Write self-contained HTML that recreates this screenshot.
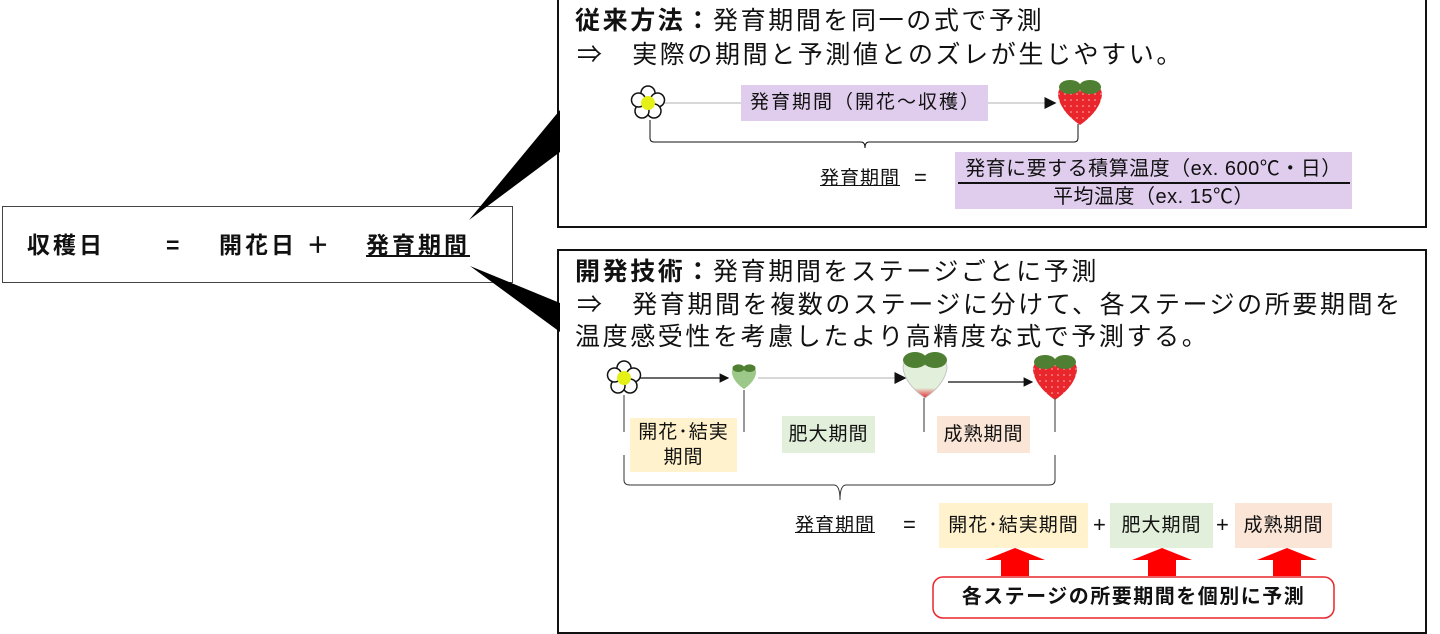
<!DOCTYPE html>
<html><head><meta charset="utf-8">
<style>
*{margin:0;padding:0;box-sizing:border-box}
body{width:1440px;height:630px;background:#fff;position:relative;overflow:hidden;font-family:"Liberation Sans","Noto Sans CJK JP",sans-serif;color:#111}
.a{position:absolute;white-space:nowrap}
.box{position:absolute;border:2px solid #111;background:#fff}
.t{font-size:25px;line-height:32px;letter-spacing:2.6px}
.lbl{position:absolute;display:flex;align-items:center;justify-content:center;font-size:19px;text-align:center;line-height:25px;letter-spacing:1px}
.m{font-size:23px;font-weight:bold;line-height:30px;letter-spacing:3px}
</style></head><body>
<div class="box" style="left:2px;top:206px;width:511px;height:77px;border:1.5px solid #444"></div>
<div class="a m" style="left:27px;top:230px">収穫日</div>
<div class="a m" style="left:166px;top:230px">=</div>
<div class="a m" style="left:219px;top:230px">開花日 ＋</div>
<div class="a m" style="left:366px;top:230px;text-decoration:underline">発育期間</div>

<div class="box" style="left:557px;top:-2px;width:870px;height:230px"></div>
<div class="a t" style="left:575px;top:5px"><b>従来方法：</b>発育期間を同一の式で予測</div>
<div class="a t" style="left:577px;top:39px">⇒　実際の期間と予測値とのズレが生じやすい。</div>

<div class="box" style="left:557px;top:249px;width:870px;height:385px"></div>
<div class="a t" style="left:575px;top:256px"><b>開発技術：</b>発育期間をステージごとに予測</div>
<div class="a t" style="left:577px;top:289px">⇒　発育期間を複数のステージに分けて、各ステージの所要期間を</div>
<div class="a t" style="left:575px;top:321px">温度感受性を考慮したより高精度な式で予測する。</div>

<svg class="a" style="left:0;top:0" width="1440" height="630">
<polygon points="469,220 560,110 560,152" fill="#000"/>
<polygon points="470,266 560,303 560,332" fill="#000"/>
<defs>
<marker id="ar" markerWidth="8" markerHeight="8" refX="7" refY="4" orient="auto"><path d="M0,0 L8,4 L0,8z" fill="#111"/></marker>
<pattern id="dots" width="6" height="6" patternUnits="userSpaceOnUse"><rect width="6" height="6" fill="#e8262b"/><circle cx="3" cy="3" r="0.8" fill="#fbb"/></pattern>
<g id="flower"><g fill="#fff" stroke="#111" stroke-width="1.5">
<circle cx="0" cy="-10" r="7"/><circle cx="9.5" cy="-3" r="7"/><circle cx="6" cy="8" r="7"/><circle cx="-6" cy="8" r="7"/><circle cx="-9.5" cy="-3" r="7"/></g>
<circle r="7" fill="#e5f016"/></g>
<g id="berry"><path d="M-22,-8 Q-22,-18 -10,-18 Q0,-18 0,-10 Q0,-18 10,-18 Q22,-18 22,-8 Q20,8 0,22 Q-20,8 -22,-8z" fill="url(#dots)"/>
<ellipse cx="-10" cy="-16" rx="11" ry="7" fill="#4f7f33"/><ellipse cx="10" cy="-16" rx="11" ry="7" fill="#4f7f33"/></g>
</defs>
<line x1="660" y1="103" x2="1055" y2="103" stroke="#ccc" stroke-width="1.5" marker-end="url(#ar)"/>
<rect x="741" y="85" width="247" height="36" fill="#e0cdee"/>
<use href="#flower" x="648" y="103"/>
<use href="#berry" x="1080" y="103"/>
<path d="M650,120 L650,138 Q650,142 654,142 L861,142 Q865,142 865,148 Q865,142 869,142 L1074,142 Q1078,142 1078,138 L1078,124" fill="none" stroke="#111" stroke-width="1"/>
<rect x="955" y="152" width="397" height="57" fill="#e0cdee"/>
<line x1="958" y1="183" x2="1350" y2="183" stroke="#111" stroke-width="2"/>
<line x1="636" y1="378" x2="728" y2="378" stroke="#111" stroke-width="1.2" marker-end="url(#ar)"/>
<line x1="758" y1="378" x2="905" y2="378" stroke="#ccc" stroke-width="1.5" marker-end="url(#ar)"/>
<line x1="948" y1="382" x2="1032" y2="382" stroke="#111" stroke-width="1.2" marker-end="url(#ar)"/>
<use href="#flower" x="624" y="378"/>
<g transform="translate(744,377) scale(0.55)"><path d="M-22,-8 Q-22,-18 -10,-18 Q0,-18 0,-10 Q0,-18 10,-18 Q22,-18 22,-8 Q20,8 0,22 Q-20,8 -22,-8z" fill="#9cc98a"/><ellipse cx="-10" cy="-16" rx="11" ry="7" fill="#4f7f33"/><ellipse cx="10" cy="-16" rx="11" ry="7" fill="#4f7f33"/></g>
<g transform="translate(925,376)"><defs><linearGradient id="g1" x1="0" y1="0" x2="0" y2="1"><stop offset="0.75" stop-color="#e2efda"/><stop offset="1" stop-color="#e8262b"/></linearGradient></defs><path d="M-22,-8 Q-22,-18 -10,-18 Q0,-18 0,-10 Q0,-18 10,-18 Q22,-18 22,-8 Q20,8 0,22 Q-20,8 -22,-8z" fill="url(#g1)" stroke="#bbb" stroke-width="0.8"/><ellipse cx="-10" cy="-16" rx="12" ry="8" fill="#4f7f33"/><ellipse cx="10" cy="-16" rx="12" ry="8" fill="#4f7f33"/></g>
<use href="#berry" x="1055" y="378"/>
<g stroke="#555" stroke-width="1.2">
<line x1="624" y1="395" x2="624" y2="432"/><line x1="744" y1="390" x2="744" y2="432"/>
<line x1="924" y1="398" x2="924" y2="432"/><line x1="1055" y1="398" x2="1055" y2="432"/>
</g>
<path d="M624,455 L624,480 Q624,485 630,485 L834,485 Q840,485 840,500 Q840,485 846,485 L1049,485 Q1055,485 1055,480 L1055,455" fill="none" stroke="#333" stroke-width="1"/>
<rect x="630" y="418" width="107" height="54" fill="#fff2cc"/>
<rect x="782" y="416" width="93" height="37" fill="#e2efda"/>
<rect x="937" y="416" width="93" height="37" fill="#fbe5d6"/>
<rect x="939" y="503" width="149" height="45" fill="#fff2cc"/>
<rect x="1110" y="503" width="103" height="45" fill="#e2efda"/>
<rect x="1235" y="503" width="97" height="45" fill="#fbe5d6"/>
<g fill="#ff0000">
<polygon points="1015,548 1045,560 1029,560 1029,576 1001,576 1001,560 985,560"/>
<polygon points="1162,548 1192,560 1176,560 1176,576 1148,576 1148,560 1132,560"/>
<polygon points="1287,548 1317,560 1301,560 1301,576 1273,576 1273,560 1257,560"/>
</g>
<rect x="933" y="577" width="401" height="41" rx="10" fill="#fff" stroke="#e8262b" stroke-width="1.5"/>
</svg>

<div class="a" style="left:750px;top:90px;font-size:19px;line-height:26px;letter-spacing:2px">発育期間（開花～収穫）</div>
<div class="a" style="left:820px;top:167px;font-size:19px;line-height:24px;letter-spacing:1px;text-decoration:underline">発育期間 </div>
<div class="a" style="left:914px;top:166px;font-size:22px;line-height:24px">=</div>
<div class="a" style="left:955px;top:157px;width:397px;text-align:center;font-size:20px;line-height:24px;letter-spacing:0.5px">発育に要する積算温度（ex. 600℃・日）</div>
<div class="a" style="left:955px;top:185px;width:397px;text-align:center;font-size:20px;line-height:24px;letter-spacing:0.5px">平均温度（ex. 15℃）</div>

<div class="lbl" style="left:630px;top:418px;width:107px;height:54px">開花･結実<br>期間</div>
<div class="lbl" style="left:782px;top:416px;width:93px;height:37px">肥大期間</div>
<div class="lbl" style="left:937px;top:416px;width:93px;height:37px">成熟期間</div>
<div class="a" style="left:795px;top:513px;font-size:19px;line-height:25px;letter-spacing:1px;text-decoration:underline">発育期間</div>
<div class="a" style="left:903px;top:512px;font-size:22px;line-height:25px">=</div>
<div class="lbl" style="left:939px;top:503px;width:149px;height:45px">開花･結実期間</div>
<div class="a" style="left:1093px;top:512px;font-size:22px;line-height:25px">+</div>
<div class="lbl" style="left:1110px;top:503px;width:103px;height:45px">肥大期間</div>
<div class="a" style="left:1216px;top:512px;font-size:22px;line-height:25px">+</div>
<div class="lbl" style="left:1235px;top:503px;width:97px;height:45px">成熟期間</div>
<div class="lbl" style="left:933px;top:577px;width:401px;height:41px;font-weight:bold;font-size:20px;letter-spacing:1.5px">各ステージの所要期間を個別に予測</div>
</body></html>
